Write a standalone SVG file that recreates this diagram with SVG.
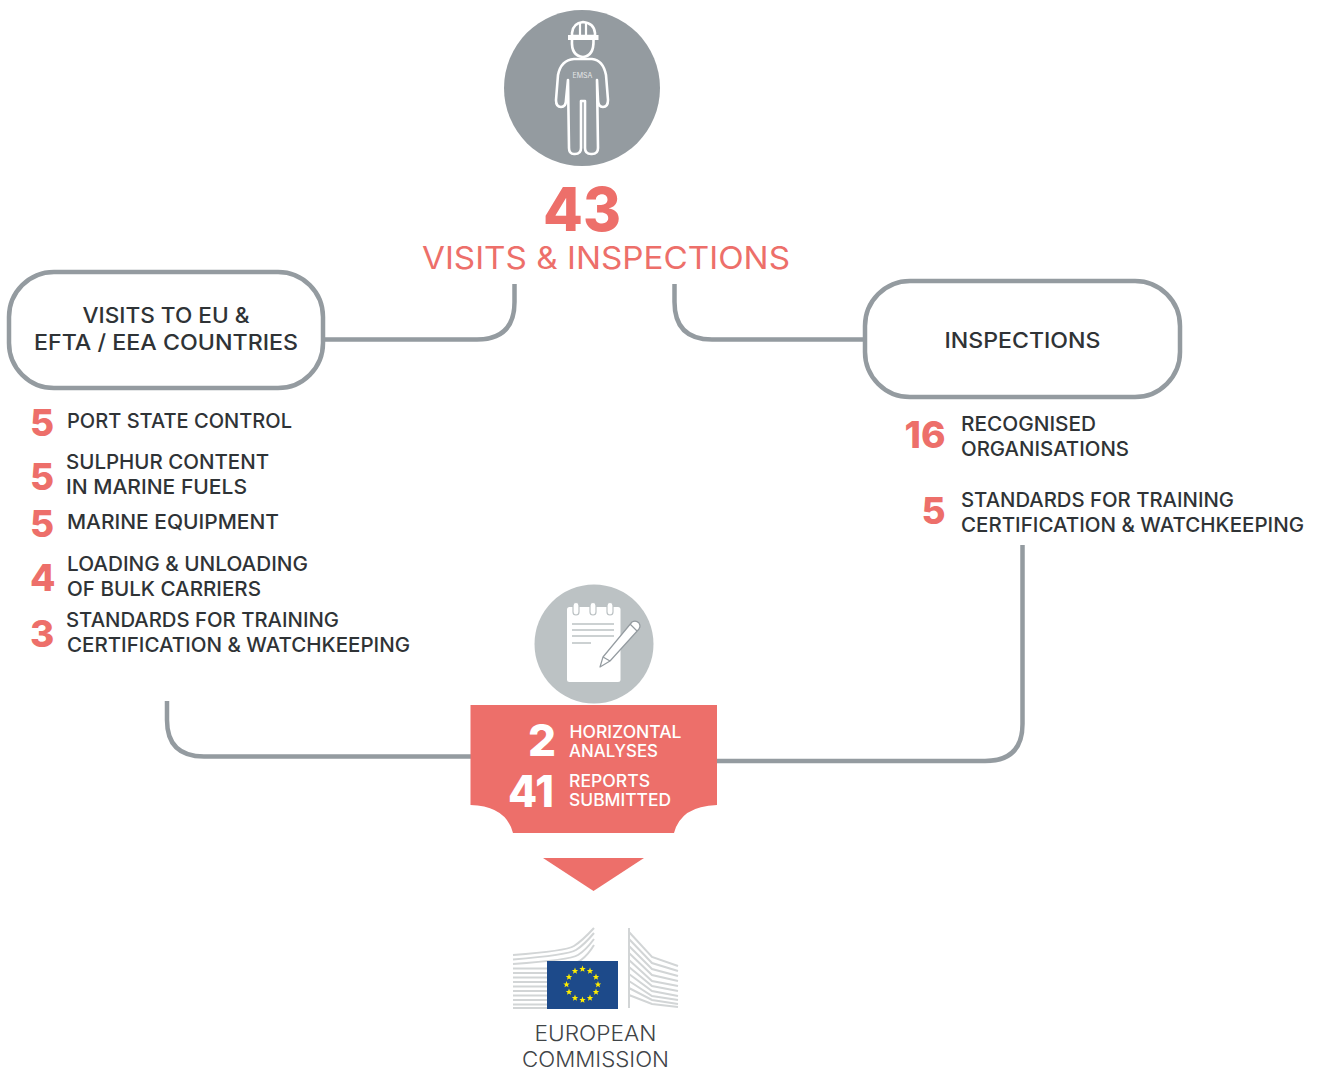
<svg xmlns="http://www.w3.org/2000/svg" width="1317" height="1068" viewBox="0 0 1317 1068">
<defs>
<polygon id="star" points="0,-3.4 0.9,-1.1 3.2,-1 1.4,0.4 2,2.7 0,1.4 -2,2.7 -1.4,0.4 -3.2,-1 -0.9,-1.1" fill="#ffed00"/>
</defs>
<style>
text{font-family:"Inter","Liberation Sans",sans-serif}
.lb{font-size:20px;fill:#2f3336;font-weight:500}
.hd{font-size:21.5px;fill:#2f3336;font-weight:500}
.num{font-size:37px;font-weight:800;fill:#ed6f6a}
.wl{font-size:17px;fill:#fff;font-weight:500}
.wn{font-size:44px;font-weight:800;fill:#fff}
.conn{fill:none;stroke:#949ba0;stroke-width:4.500}
.box{fill:#fff;stroke:#949ba0;stroke-width:4.500}
.wk{fill:none;stroke:#fff;stroke-width:2.600;stroke-linejoin:round}
.bl{fill:none;stroke:#d2d5d6;stroke-width:2}
.pl{stroke:#bcc2c4;stroke-width:1.400;fill:none}
</style>
<g id="connectors">
<path class="conn" d="M514.500 284V302Q514.500 339.500 477 339.500H325"/>
<path class="conn" d="M674.500 284V302Q674.500 339.500 712 339.500H865"/>
<path class="conn" d="M167 701V720Q167 756.500 204 756.500H471"/>
<path class="conn" d="M1022.500 545V724Q1022.500 761 985 761H717"/>
</g>
<g id="worker">
<circle cx="582" cy="88" r="78" fill="#949ba0"/>
<path d="M572 36V33Q573 23 583 22Q594 23 595 33V36Z" fill="none" stroke="#fff" stroke-width="2.600"/>
<path d="M568 35H598.500V40H568Z" fill="#fff"/>
<path d="M580 23V35M586 23V35" stroke="#fff" stroke-width="2.200"/>
<path class="wk" d="M572 40Q571 56 583 57Q594 56 593.500 40"/>
<path class="wk" d="M574 59H592Q603 60 606 75L608 100Q608 107 603 107Q598 107 598 100L597 80L598 148Q598 154 592 154H591Q585 154 585 148V101H581V148Q581 154 575 154H574Q569 154 569 148L568 80L566 100Q566 107 561 107Q556 107 556 100L558 75Q561 60 574 59Z"/>
<text x="582.500" y="78" text-anchor="middle" font-size="7" fill="#e4e6e7">EMSA</text>
</g>
<g id="title">
<text x="582" y="231" text-anchor="middle" font-size="61" font-weight="800" fill="#ed6f6a" textLength="78" lengthAdjust="spacingAndGlyphs">43</text>
<text x="606" y="268.500" text-anchor="middle" font-size="31" fill="#ed6f6a" textLength="368" lengthAdjust="spacingAndGlyphs">VISITS &amp; INSPECTIONS</text>
</g>
<g id="node-visits">
<rect class="box" x="9" y="272" width="314" height="116" rx="45"/>
<text class="hd" x="166" y="323" text-anchor="middle" textLength="167" lengthAdjust="spacingAndGlyphs">VISITS TO EU &amp;</text>
<text class="hd" x="166" y="350" text-anchor="middle" textLength="264" lengthAdjust="spacingAndGlyphs">EFTA / EEA COUNTRIES</text>
</g>
<g id="node-inspections">
<rect class="box" x="865" y="281" width="315" height="116" rx="45"/>
<text class="hd" x="1022.500" y="348" text-anchor="middle" textLength="156" lengthAdjust="spacingAndGlyphs">INSPECTIONS</text>
</g>
<g id="list-visits">
<text class="num" x="30" y="436">5</text>
<text class="lb" x="67" y="428" textLength="225" lengthAdjust="spacingAndGlyphs">PORT STATE CONTROL</text>
<text class="num" x="30" y="490">5</text>
<text class="lb" x="66" y="469" textLength="203" lengthAdjust="spacingAndGlyphs">SULPHUR CONTENT</text>
<text class="lb" x="66" y="494" textLength="181" lengthAdjust="spacingAndGlyphs">IN MARINE FUELS</text>
<text class="num" x="30" y="537">5</text>
<text class="lb" x="67" y="529" textLength="212" lengthAdjust="spacingAndGlyphs">MARINE EQUIPMENT</text>
<text class="num" x="30" y="591">4</text>
<text class="lb" x="67" y="571" textLength="241" lengthAdjust="spacingAndGlyphs">LOADING &amp; UNLOADING</text>
<text class="lb" x="67" y="596" textLength="194" lengthAdjust="spacingAndGlyphs">OF BULK CARRIERS</text>
<text class="num" x="30" y="647">3</text>
<text class="lb" x="66" y="627" textLength="273" lengthAdjust="spacingAndGlyphs">STANDARDS FOR TRAINING</text>
<text class="lb" x="67" y="652" textLength="343" lengthAdjust="spacingAndGlyphs">CERTIFICATION &amp; WATCHKEEPING</text>
</g>
<g id="list-inspections">
<text class="num" x="904.500" y="448" textLength="41" lengthAdjust="spacingAndGlyphs">16</text>
<text class="lb" x="961" y="431" textLength="135" lengthAdjust="spacingAndGlyphs">RECOGNISED</text>
<text class="lb" x="961" y="456" textLength="168" lengthAdjust="spacingAndGlyphs">ORGANISATIONS</text>
<text class="num" x="921.500" y="524">5</text>
<text class="lb" x="961" y="507" textLength="273" lengthAdjust="spacingAndGlyphs">STANDARDS FOR TRAINING</text>
<text class="lb" x="961" y="532" textLength="343" lengthAdjust="spacingAndGlyphs">CERTIFICATION &amp; WATCHKEEPING</text>
</g>
<g id="notepad">
<circle cx="594" cy="644" r="59.500" fill="#bcc2c4"/>
<rect x="567" y="607" width="53.500" height="75" rx="2.500" fill="#fff"/>
<rect x="573" y="602.500" width="6" height="12.500" rx="3" fill="#fff" stroke="#bcc2c4" stroke-width="1.200"/>
<rect x="590" y="602.500" width="6" height="12.500" rx="3" fill="#fff" stroke="#bcc2c4" stroke-width="1.200"/>
<rect x="607" y="602.500" width="6" height="12.500" rx="3" fill="#fff" stroke="#bcc2c4" stroke-width="1.200"/>
<path class="pl" d="M572 624H614M572 630H614M572 636H614M572 643H591"/>
<path d="M600 667L603 657L632 622Q636 620 639 623Q641 626 639 629L610 661Z" fill="#fff" stroke="#949ba0" stroke-width="1.200" stroke-linejoin="round"/>
<path d="M603 657L610 661M630 624L637 631" stroke="#949ba0" stroke-width="1.200" fill="none"/>
</g>
<g id="reports">
<path d="M470.500 705H717V805Q681 806 674 833H513Q506 806 470.500 805Z" fill="#ed6f6a"/>
<text class="wn" x="528" y="755.500">2</text>
<text class="wl" x="569.500" y="738" textLength="112" lengthAdjust="spacingAndGlyphs">HORIZONTAL</text>
<text class="wl" x="569" y="757" textLength="89" lengthAdjust="spacingAndGlyphs">ANALYSES</text>
<text class="wn" x="508" y="806.500" textLength="46" lengthAdjust="spacingAndGlyphs">41</text>
<text class="wl" x="569" y="787" textLength="81" lengthAdjust="spacingAndGlyphs">REPORTS</text>
<text class="wl" x="569" y="806" textLength="102" lengthAdjust="spacingAndGlyphs">SUBMITTED</text>
</g>
<polygon id="arrow" points="543,858 644,858 593.500,891" fill="#ed6f6a"/>
<g id="ec-logo">
<path class="bl" d="M513 955Q566 951 574 946T594 928M513 959.500Q568 955 576 950T594 933M513 964Q570 960 578 955T594 939M513 968.500H547Q574 965 581 960T594 945M513 973H547M513 977.500H547M513 982H547M513 986.500H547M513 991H547M513 995.500H547M513 1000H547M513 1004.500H547M513 1008H547"/>
<path class="bl" d="M629 928V1008M629 932L652 957L678 966M629 939L652 963L678 971M629 946L652 969L678 976M629 953L652 975L678 981M629 960L652 981L678 986M629 967L652 986L678 991M629 974L652 991L678 996M629 981L652 996L678 1000M629 988L652 1000L678 1004M629 995L652 1004L678 1007"/>
<rect x="547" y="961" width="71" height="48" fill="#1d4a8a"/>
<use href="#star" x="582.500" y="969"/><use href="#star" x="590" y="971"/><use href="#star" x="596" y="977"/><use href="#star" x="598" y="984.500"/><use href="#star" x="596" y="992"/><use href="#star" x="590" y="998"/><use href="#star" x="582.500" y="1000"/><use href="#star" x="575" y="998"/><use href="#star" x="569" y="992"/><use href="#star" x="566.500" y="984.500"/><use href="#star" x="569" y="977"/><use href="#star" x="575" y="971"/>
<text x="595.500" y="1041" text-anchor="middle" font-size="21" fill="#3f4447" font-weight="300" textLength="122" lengthAdjust="spacingAndGlyphs">EUROPEAN</text>
<text x="595.500" y="1067" text-anchor="middle" font-size="21" fill="#3f4447" font-weight="300" textLength="147" lengthAdjust="spacingAndGlyphs">COMMISSION</text>
</g>
</svg>
